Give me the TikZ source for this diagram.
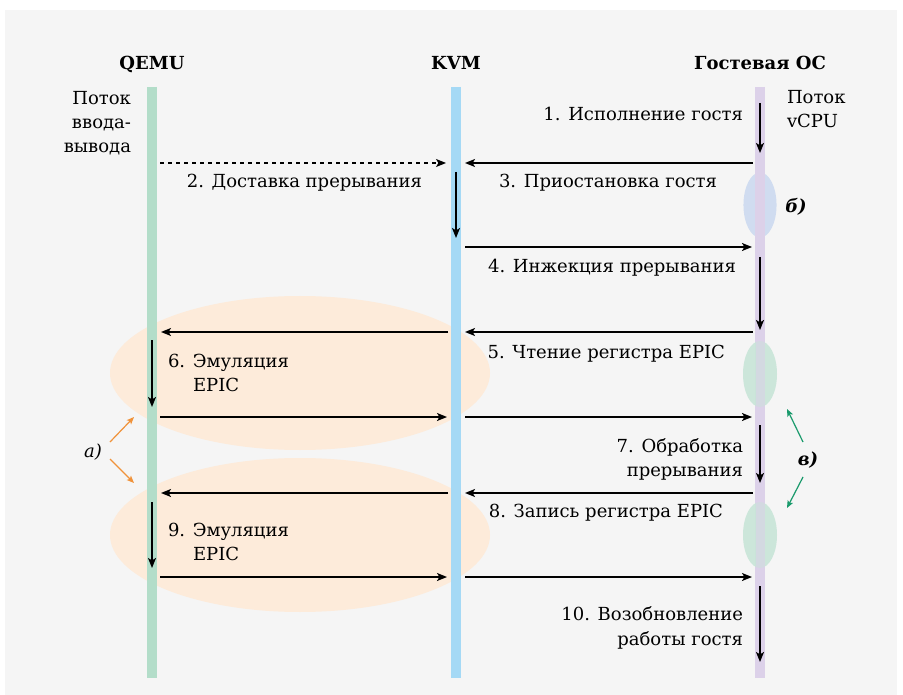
\documentclass[tikz,border=0pt]{standalone}
\usepackage{fontspec}
\setmainfont{DejaVu Serif}
\usetikzlibrary{arrows.meta}
\definecolor{bgc}{HTML}{F5F5F5}
\definecolor{qemuc}{HTML}{B3DDC9}
\definecolor{kvmc}{HTML}{A5D9F5}
\definecolor{guestc}{HTML}{DCD1E9}
\definecolor{orangeel}{HTML}{FDEBDA}
\definecolor{blueel}{HTML}{D0DCF0}
\definecolor{greenel}{HTML}{C8E5D8}
\definecolor{orangear}{HTML}{F0923A}
\definecolor{greenar}{HTML}{1A9A6C}
\begin{document}
\begin{tikzpicture}[x=0.75pt,y=-0.75pt,
  lbl/.style={font=\fontsize{13.5}{18}\selectfont, inner sep=0pt, outer sep=0pt},
  hdr/.style={font=\fontsize{13.5}{18}\selectfont\bfseries, inner sep=0pt, anchor=base},
  rlbl/.style={lbl, anchor=base east},
  llbl/.style={lbl, anchor=base west},
  life/.style={line width=7.8pt},
  msg/.style={line width=1.1pt, -{Stealth[length=7.5pt,width=6pt,inset=1.8pt]}},
  dmsg/.style={msg, line width=0.9pt, dash pattern=on 3pt off 3pt},
  oarr/.style={orangear, line width=0.9pt, -{Stealth[length=5.5pt,width=4.5pt,inset=1.2pt]}},
  garr/.style={greenar, line width=0.9pt, -{Stealth[length=5.5pt,width=4.5pt,inset=1.2pt]}},
  letmark/.style={font=\fontsize{13.5}{18}\selectfont\itshape, inner sep=0pt},
  bletmark/.style={font=\fontsize{13.5}{18}\selectfont\bfseries\itshape, inner sep=0pt}]
\useasboundingbox (0,0) rectangle (903,695);
\fill[white] (0,0) rectangle (903,695);
\fill[bgc] (5,10) rectangle (897,695);

% highlight ellipses
\fill[orangeel] (300,373) ellipse [x radius=142.5pt, y radius=57.75pt];
\fill[orangeel] (300,535) ellipse [x radius=142.5pt, y radius=57.75pt];
\fill[blueel] (760,205) ellipse [x radius=12.4pt, y radius=24.4pt];

% lifelines
\coordinate (qtop) at (152,87);  \coordinate (qbot) at (152,678);
\coordinate (ktop) at (456,87);  \coordinate (kbot) at (456,678);
\coordinate (gtop) at (760,87);  \coordinate (gbot) at (760,678);
\draw[life, qemuc] (qtop) -- (qbot);
\draw[life, kvmc] (ktop) -- (kbot);
\draw[life, guestc] (gtop) -- (gbot);
\fill[greenel, opacity=0.9] (760,374) ellipse [x radius=12.75pt, y radius=24.75pt];
\fill[greenel, opacity=0.9] (760,535) ellipse [x radius=12.75pt, y radius=24.75pt];
\fill[guestc, opacity=0.55] (756,340) rectangle (765,570);
\fill[guestc, opacity=0.55] (756,175) rectangle (765,238);

% headers
\node[hdr] (hq) at (152,70) {QEMU};
\node[hdr] (hk) at (456,70) {KVM};
\node[hdr] (hg) at (760,70) {Гостевая ОС};

% thread labels
\node[rlbl] (tq1) at (131,105) {Поток};
\node[rlbl] (tq2) at (131,129) {ввода-};
\node[rlbl] (tq3) at (131,153) {вывода};
\node[llbl] (tg1) at (787,104) {Поток};
\node[llbl] (tg2) at (787,128) {vCPU};

% coordinates of message ends
\coordinate (a1s) at (760,103); \coordinate (a1e) at (760,153);
\coordinate (b1s) at (753,163); \coordinate (b1e) at (465,163);
\coordinate (b2s) at (160,163); \coordinate (b2e) at (446,163);
\coordinate (c1s) at (456,172); \coordinate (c1e) at (456,238);
\coordinate (d1s) at (465,247); \coordinate (d1e) at (752,247);
\coordinate (e1s) at (760,257); \coordinate (e1e) at (760,330);
\coordinate (f1s) at (753,332); \coordinate (f1e) at (465,332);
\coordinate (f2s) at (448,332); \coordinate (f2e) at (161,332);
\coordinate (g1s) at (152,340); \coordinate (g1e) at (152,407);
\coordinate (h1s) at (160,417); \coordinate (h1e) at (447,417);
\coordinate (h2s) at (465,417); \coordinate (h2e) at (752,417);
\coordinate (i1s) at (760,425); \coordinate (i1e) at (760,483);
\coordinate (j1s) at (753,493); \coordinate (j1e) at (465,493);
\coordinate (j2s) at (448,493); \coordinate (j2e) at (161,493);
\coordinate (k1s) at (152,502); \coordinate (k1e) at (152,568);
\coordinate (l1s) at (160,577); \coordinate (l1e) at (447,577);
\coordinate (l2s) at (465,577); \coordinate (l2e) at (752,577);
\coordinate (m1s) at (760,586); \coordinate (m1e) at (760,662);

\draw[msg] (a1s) -- (a1e);
\draw[msg] (b1s) -- (b1e);
\draw[dmsg] (b2s) -- (b2e);
\draw[msg] (c1s) -- (c1e);
\draw[msg] (d1s) -- (d1e);
\draw[msg] (e1s) -- (e1e);
\draw[msg] (f1s) -- (f1e);
\draw[msg] (f2s) -- (f2e);
\draw[msg] (g1s) -- (g1e);
\draw[msg] (h1s) -- (h1e);
\draw[msg] (h2s) -- (h2e);
\draw[msg] (i1s) -- (i1e);
\draw[msg] (j1s) -- (j1e);
\draw[msg] (j2s) -- (j2e);
\draw[msg] (k1s) -- (k1e);
\draw[msg] (l1s) -- (l1e);
\draw[msg] (l2s) -- (l2e);
\draw[msg] (m1s) -- (m1e);

% message labels
\node[rlbl] (t1) at (743,121) {1. Исполнение гостя};
\node[rlbl] (t2) at (422,188) {2. Доставка прерывания};
\node[rlbl] (t3) at (717,188) {3. Приостановка гостя};
\node[rlbl] (t4) at (736,273) {4. Инжекция прерывания};
\node[rlbl] (t5) at (725,358) {5. Чтение регистра EPIC};
\node[llbl] (t6a) at (168,367) {6. Эмуляция};
\node[llbl] (t6b) at (193,391) {EPIC};
\node[rlbl] (t7a) at (743,452) {7. Обработка};
\node[rlbl] (t7b) at (743,476) {прерывания};
\node[rlbl] (t8) at (723,517) {8. Запись регистра EPIC};
\node[llbl] (t9a) at (168,536) {9. Эмуляция};
\node[llbl] (t9b) at (193,560) {EPIC};
\node[rlbl] (t10a) at (743,620) {10. Возобновление};
\node[rlbl] (t10b) at (743,645) {работы гостя};

% markers
\node[letmark] (ma) at (93,452) {а)};
\node[bletmark] (mb) at (796,207) {б)};
\node[bletmark] (mv) at (808,460) {в)};
\coordinate (oa1s) at (110,442); \coordinate (oa1e) at (134,417);
\coordinate (oa2s) at (110,459); \coordinate (oa2e) at (134,483);
\coordinate (gv1s) at (803,442); \coordinate (gv1e) at (787,409);
\coordinate (gv2s) at (803,477); \coordinate (gv2e) at (787,508);
\draw[oarr] (oa1s) -- (oa1e);
\draw[oarr] (oa2s) -- (oa2e);
\draw[garr] (gv1s) -- (gv1e);
\draw[garr] (gv2s) -- (gv2e);
\end{tikzpicture}
\end{document}
